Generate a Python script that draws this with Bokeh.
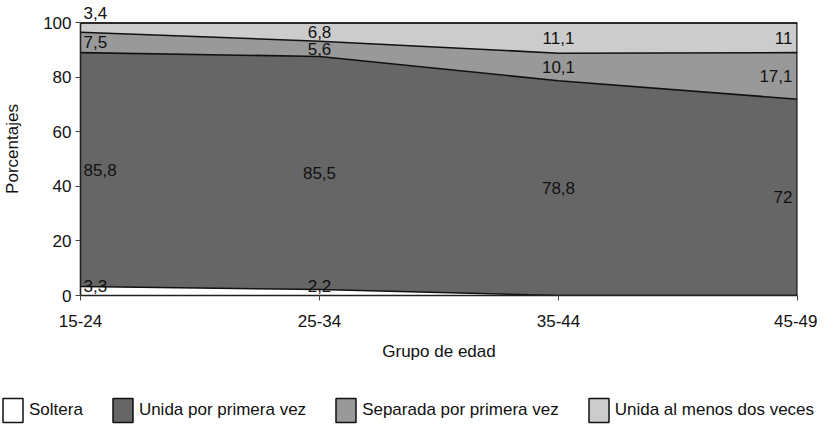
from bokeh.plotting import figure
from bokeh.models import (ColumnDataSource, Range1d, FixedTicker, Legend,
                          LegendItem, LabelSet)
from bokeh.core.properties import value
from bokeh.embed import file_html
from bokeh.resources import INLINE

groups = ["15-24", "25-34", "35-44", "45-49"]
soltera = [3.3, 2.2, 0.0, 0.0]
unida_primera = [85.8, 85.5, 78.8, 72.0]
separada = [7.5, 5.6, 10.1, 17.1]
unida_dos = [3.4, 6.8, 11.1, 11.0]
series_names = ["Soltera", "Unida por primera vez",
                "Separada por primera vez", "Unida al menos dos veces"]
colors = ["#ffffff", "#666666", "#999999", "#cccccc"]
yticks = [0, 20, 40, 60, 80, 100]

FONT = "Liberation Sans"
xs = list(range(len(groups)))
stack = [soltera, unida_primera, separada, unida_dos]
keys = ["s0", "s1", "s2", "s3"]
YMAX = yticks[-1]

# clip stacked tops at 100 (rounding sums)
cum = [0.0] * len(xs)
tops = []
for vals in stack:
    cum = [c + v for c, v in zip(cum, vals)]
    tops.append([min(c, YMAX) for c in cum])
adj = {"x": xs}
prev = [0.0] * len(xs)
for k, t in zip(keys, tops):
    adj[k] = [a - b for a, b in zip(t, prev)]
    prev = t
src = ColumnDataSource(adj)

p = figure(width=817, height=375, output_backend="svg", toolbar_location=None,
           x_range=Range1d(xs[0], xs[-1]), y_range=Range1d(0, YMAX + 7.5),
           min_border_left=72, min_border_right=20, min_border_top=2,
           min_border_bottom=80)
p.background_fill_color = "#ffffff"
p.border_fill_color = "#ffffff"
p.xgrid.visible = False
p.ygrid.visible = False
p.outline_line_color = None

p.varea_stack(stackers=keys, x="x", color=colors, source=src)

# boundary lines
for t in tops:
    p.line(xs, t, line_color="#111111", line_width=1.6)
# frame (top and right edges)
p.line([xs[0], xs[-1]], [YMAX, YMAX], line_color="#222222", line_width=1.6)
p.line([xs[-1], xs[-1]], [0, YMAX], line_color="#222222", line_width=2.5)

# data labels
lx, ly, lt, la, lb, lxo, lyo = [], [], [], [], [], [], []
for s_idx, vals in enumerate(stack):
    for i, v in enumerate(vals):
        if v == 0:
            continue
        base = sum(stack[k][i] for k in range(s_idx))
        txt = ("%g" % v).replace(".", ",")
        if s_idx == 0 and v < 4:
            y, b, yo = 0.0, "alphabetic", 4
        elif s_idx == len(stack) - 1 and v < 4:
            y, b, yo = float(YMAX), "alphabetic", 4
        else:
            y, b, yo = base + v / 2.0, "middle", 0
        if i == 0:
            a, xo = "left", 3
        elif i == len(vals) - 1:
            a, xo = "right", -5
        else:
            a, xo = "center", 0
        lx.append(xs[i]); ly.append(y); lt.append(txt); la.append(a)
        lb.append(b); lxo.append(xo); lyo.append(yo)
lsrc = ColumnDataSource(dict(x=lx, y=ly, t=lt, a=la, b=lb, xo=lxo, yo=lyo))
labels = LabelSet(x="x", y="y", text="t", source=lsrc, text_align="a",
                  text_baseline="b", x_offset="xo", y_offset="yo",
                  text_font=value(FONT), text_font_size="17px",
                  text_color="#111111")
p.add_layout(labels)

# axes
p.xaxis.ticker = FixedTicker(ticks=xs)
p.xaxis.major_label_overrides = {x: g for x, g in zip(xs, groups)}
p.yaxis.ticker = FixedTicker(ticks=yticks)
p.yaxis.bounds = (0, YMAX)
for ax in (p.xaxis, p.yaxis):
    ax.axis_line_color = "#222222"
    ax.axis_line_width = 1.6
    ax.major_tick_line_color = "#444444"
    ax.major_tick_in = 0
    ax.major_tick_out = 5
    ax.minor_tick_line_color = None
    ax.major_label_text_font = FONT
    ax.major_label_text_font_size = "17px"
    ax.major_label_text_color = "#111111"
    ax.axis_label_text_font = FONT
    ax.axis_label_text_font_size = "17px"
    ax.axis_label_text_font_style = "normal"
    ax.axis_label_text_color = "#111111"
p.xaxis.axis_label = "Grupo de edad"
p.yaxis.axis_label = "Porcentajes"
p.xaxis.major_label_standoff = 14
p.xaxis.axis_label_standoff = 12
p.yaxis.major_label_standoff = 4
p.yaxis.axis_label_standoff = 18

# legend figure (separate root, so its frame is not aligned to the chart)
lg = figure(width=817, height=50, output_backend="svg", toolbar_location=None,
            x_range=Range1d(0, 1), y_range=Range1d(0, 1), min_border=0,
            x_axis_location=None, y_axis_location=None)
lg.grid.visible = False
lg.outline_line_color = None
nan = float("nan")
items = []
for name, c in zip(series_names, colors):
    r = lg.quad(left=[nan], right=[nan], top=[nan], bottom=[nan], fill_color=c,
                line_color="#111111", line_width=1.5)
    items.append(LegendItem(label=name, renderers=[r]))
legend = Legend(items=items, orientation="horizontal", location=(0, 0),
                glyph_width=25, glyph_height=30, label_standoff=4,
                spacing=27, padding=0, margin=0, border_line_color=None,
                background_fill_alpha=0, label_text_font=FONT,
                label_text_font_size="17px", label_text_color="#111111")
lg.add_layout(legend, "center")

open("out.html", "w").write(file_html([p, lg], INLINE))
